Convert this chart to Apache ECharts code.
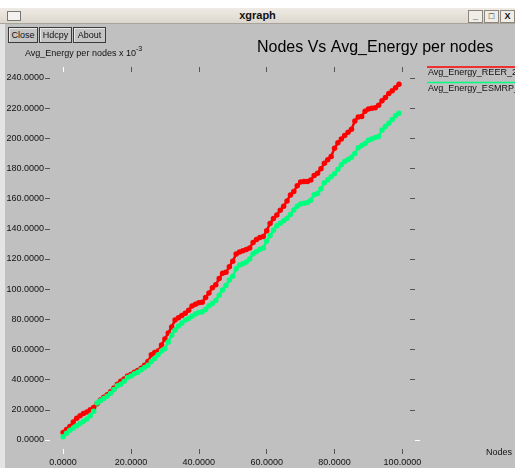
<!DOCTYPE html>
<html>
<head>
<meta charset="utf-8">
<script src="https://cdn.jsdelivr.net/npm/echarts@6/dist/echarts.min.js"></script>
<style>
html,body{margin:0;padding:0;width:515px;height:468px;overflow:hidden;background:#c0c0c0;font-family:'Liberation Sans',Arial,sans-serif;}
#chart{position:absolute;left:0;top:0;width:515px;height:468px;}
#topwhite{position:absolute;left:0;top:0;width:515px;height:8px;background:#fff;z-index:5;}
#titlebar{position:absolute;left:0;top:8px;width:515px;height:16px;background:linear-gradient(#efebe4,#dcd7ce);z-index:5;border-bottom:1px solid #a8a49c;box-sizing:border-box;}
#titlebar .t{position:absolute;left:0;width:515px;top:1px;text-align:center;font-weight:bold;font-size:11px;color:#111;}
#icon{position:absolute;left:7px;top:3px;width:12px;height:8px;border:1px solid #777;background:#f4f2ee;}
.wb{position:absolute;top:2px;width:13px;height:11px;border:1px solid #8a867e;background:#f0ede7;font-size:9px;font-weight:bold;line-height:11px;text-align:center;color:#111;}
#leftstrip{position:absolute;left:0;top:24px;width:5px;height:444px;background:#e4e4e4;z-index:5;}
.btn{position:absolute;top:27px;height:14px;border:1px solid #3a3a3a;box-shadow:inset 1px 1px 0 #e8e8e8;background:#c4c4c4;font-size:9px;line-height:14px;text-align:center;color:#111;z-index:5;}
</style>
</head>
<body>
<div id="chart"></div>
<div id="topwhite"></div>
<div id="titlebar"><div id="icon"></div><div class="t">xgraph</div>
<div class="wb" style="left:468px">_</div><div class="wb" style="left:484px">&#9633;</div><div class="wb" style="left:500px">X</div></div>
<div id="leftstrip"></div>
<div class="btn" style="left:8px;width:28px">Close</div>
<div class="btn" style="left:39px;width:31px">Hdcpy</div>
<div class="btn" style="left:73px;width:31px">About</div>
<script>
var nodes = [0,1,2,3,4,5,6,7,8,9,10,11,12,13,14,15,16,17,18,19,20,21,22,23,24,25,26,27,28,29,30,31,32,33,34,35,36,37,38,39,40,41,42,43,44,45,46,47,48,49,50,51,52,53,54,55,56,57,58,59,60,61,62,63,64,65,66,67,68,69,70,71,72,73,74,75,76,77,78,79,80,81,82,83,84,85,86,87,88,89,90,91,92,93,94,95,96,97,98,99];

var reer = [5,7,9,12,14.5,16,17.5,18.5,20,21.5,
  24,26.5,28.3,30,32,34.5,37,39,40.5,42.5,
  43.5,45,46,47.5,49.5,52,56.5,58,59,63,
  67,71,75,79.5,81,82.5,84,86,88.8,90,
  91,91.3,94.5,97.5,101,103,107,110.5,111.2,114.9,
  118.5,123.3,124.6,125.5,126.3,127.3,131,133,134.3,135,
  138.8,143.5,146.8,149.2,152.3,155,158.5,162.5,164.8,168.5,
  171,171.3,171.3,172.4,175.3,176.8,179.8,183.5,185.8,188,
  193.5,197,199.5,201.8,204,206,211.5,214.2,214.5,218,
  219.5,219.9,220.3,222,225,227,229.8,231.5,233.5,235.8];

var esmrp = [2.2,4.5,6.5,8,9.5,11,12.5,14,16,19,
  24.5,26,27.5,29,31,33.5,36,37,39,41.5,
  42.5,44,45,46.5,48,49.5,52,54,56.5,59,
  60.5,65,69.5,73,75.5,77.5,79.5,80.5,82,83.5,
  84.5,85,86.5,89,90.5,92.5,96,99.5,102.5,106,
  108.5,113.5,116,116.8,118,120,123.5,125,126.5,127.3,
  132,135.5,139,142,143.7,145.3,147,149.5,152.5,155,
  156.5,156.9,157.5,159,162.6,163.4,166.5,170.5,172.5,174.5,
  176.5,179.5,182.5,184.7,186,187.5,190,193.8,195.2,196.5,
  198.8,199.6,200.5,201.2,205.5,207.8,210,212.5,215,216.6];

var xTickLabels = [0,20,40,60,80,100];
var yTickLabels = [0,20,40,60,80,100,120,140,160,180,200,220,240];
var seriesNames = ['Avg_Energy_REER_2','Avg_Energy_ESMRP_2'];
var seriesColors = ['#ff0000','#00ff7f'];

function pairs(xs, ys){ var out=[]; for(var i=0;i<ys.length;i++){ out.push([xs[i], ys[i]]); } return out; }

var FONT = "'Liberation Sans', Arial, sans-serif";
var XMIN = -3.866, XMAX = 102.24, YMIN = -5.967, YMAX = 243.98;
var darkTick = '#555555', whiteTick = '#ffffff';
var nonZeroX = xTickLabels.filter(function(v){return v!==0;});
var nonZeroY = yTickLabels.filter(function(v){return v!==0;});

function xAx(gridIndex, position, ticks, color, withLabels){
  var a = {
    type:'value', gridIndex:gridIndex, position:position, min:XMIN, max:XMAX,
    axisLine:{show:false, onZero:false}, splitLine:{show:false},
    axisTick:{show:true, length:5, customValues:ticks, lineStyle:{color:color,width:1}},
    axisLabel:{show:false}
  };
  if(withLabels){
    a.axisLabel = {show:true, customValues:xTickLabels, margin:9, fontSize:9, fontFamily:FONT, color:'#111',
      formatter:function(v){return Number(v).toFixed(4);}};
    a.name = 'Nodes'; a.nameLocation='end'; a.nameGap=76;
    a.nameTextStyle = {fontSize:9, fontFamily:FONT, color:'#111', align:'left', verticalAlign:'top', lineHeight:7, padding:0};
  }
  return a;
}
function yAx(gridIndex, position, ticks, color, withLabels){
  var a = {
    type:'value', gridIndex:gridIndex, position:position, min:YMIN, max:YMAX,
    axisLine:{show:false, onZero:false}, splitLine:{show:false},
    axisTick:{show:true, length:5, customValues:ticks, lineStyle:{color:color,width:1}},
    axisLabel:{show:false}
  };
  if(withLabels){
    a.axisLabel = {show:true, customValues:yTickLabels, margin:6, fontSize:9, fontFamily:FONT, color:'#111',
      formatter:function(v){return Number(v).toFixed(4);}};
  }
  return a;
}

var gridRect = {left:50, right:100, top:72, bottom:19};

var chart = echarts.init(document.getElementById('chart'), null, {renderer:'canvas'});
chart.setOption({
  backgroundColor:'#c0c0c0',
  animation:false,
  title:[
    {text:'Nodes Vs Avg_Energy per nodes', left:257, top:40, padding:0,
     textStyle:{fontSize:16, fontWeight:'normal', fontFamily:FONT, color:'#000'}},
    {text:'{a|Avg_Energy per nodes x 10}{b|-3}', left:25, top:44, padding:0,
     textStyle:{fontFamily:FONT, fontWeight:'normal', color:'#111', rich:{
       a:{fontSize:9, fontFamily:FONT, fontWeight:'normal', color:'#111', lineHeight:14, verticalAlign:'bottom'},
       b:{fontSize:7, fontFamily:FONT, fontWeight:'normal', color:'#111', lineHeight:14, verticalAlign:'top', padding:[2,0,0,0]}}}}
  ],
  legend:{
    orient:'vertical', left:422, top:61, padding:0, itemGap:-1,
    itemWidth:0, itemHeight:0, icon:'rect',
    data:seriesNames,
    formatter:function(name){ return '{l' + seriesNames.indexOf(name) + '|}\n{t|' + name + '}'; },
    textStyle:{padding:0, rich:{
      l0:{width:100, height:1.5, lineHeight:2, backgroundColor:seriesColors[0]},
      l1:{width:100, height:1.5, lineHeight:2, backgroundColor:seriesColors[1]},
      t:{fontSize:9, fontFamily:FONT, color:'#111', lineHeight:10, padding:[0,0,0,1]}
    }}
  },
  grid:[gridRect, gridRect],
  xAxis:[
    xAx(0,'bottom',nonZeroX,darkTick,true),
    xAx(0,'top',nonZeroX,darkTick,false),
    xAx(1,'bottom',[0],whiteTick,false),
    xAx(1,'top',[0],whiteTick,false)
  ],
  yAxis:[
    yAx(0,'left',nonZeroY,darkTick,true),
    yAx(0,'right',nonZeroY,darkTick,false),
    yAx(1,'left',[0],whiteTick,false),
    yAx(1,'right',[0],whiteTick,false)
  ],
  series:[
    {name:seriesNames[0], type:'line', xAxisIndex:0, yAxisIndex:0, data:pairs(nodes, reer),
     symbol:'circle', symbolSize:5.5, showSymbol:true, color:seriesColors[0],
     lineStyle:{width:2.5, color:seriesColors[0]}, itemStyle:{color:seriesColors[0]}},
    {name:seriesNames[1], type:'line', xAxisIndex:0, yAxisIndex:0, data:pairs(nodes, esmrp),
     symbol:'circle', symbolSize:5.5, showSymbol:true, color:seriesColors[1],
     lineStyle:{width:2.5, color:seriesColors[1]}, itemStyle:{color:seriesColors[1]}}
  ]
});
</script>
</body>
</html>
